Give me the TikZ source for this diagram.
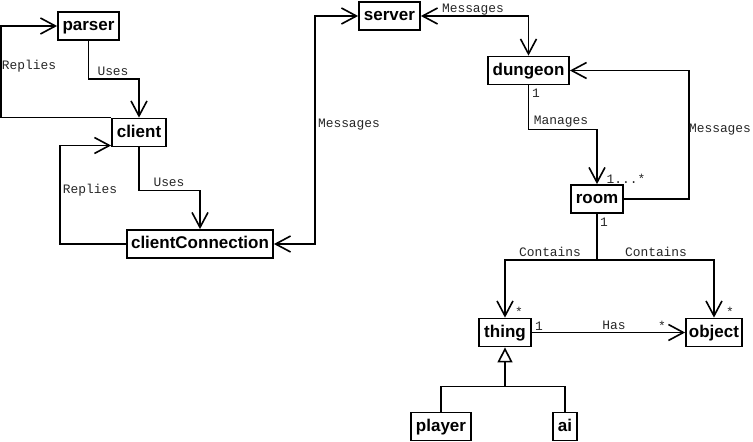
\documentclass[tikz,border=0pt]{standalone}
\usepackage{fontspec}
\setmainfont{Liberation Sans}
\newfontfamily\monofont{Liberation Mono}
\usetikzlibrary{arrows.meta}

\begin{document}
\begin{tikzpicture}[x=1pt,y=-1pt,line width=1.6pt,
  cls/.style={draw,line width=1.8pt,inner sep=0pt,minimum height=28,
    text height=12.5pt,text depth=3.5pt,font=\fontsize{17}{19}\selectfont\bfseries},
  lbl/.style={inner sep=0pt,text height=7.5pt,text depth=0pt,text=black!85,
    font=\monofont\fontsize{12.9}{14}\selectfont},
  assoc/.style={-{Straight Barb[length=15pt,width=16pt]}},
  biassoc/.style={{Straight Barb[length=15pt,width=16pt]}-{Straight Barb[length=15pt,width=16pt]}}]
  \useasboundingbox (0,0) rectangle (753,442);
  \node[cls,minimum width=61] (parser) at (88.5,26) {parser};
  \node[cls,minimum width=54] (client) at (139,132.5) {client};
  \node[cls,minimum width=146] (clientConnection) at (200,244) {clientConnection};
  \node[cls,minimum width=61] (server) at (389.5,16) {server};
  \node[cls,minimum width=81] (dungeon) at (528.5,70.5) {dungeon};
  \node[cls,minimum width=52] (room) at (597,199) {room};
  \node[cls,minimum width=52] (thing) at (505,332.5) {thing};
  \node[cls,minimum width=56] (object) at (714,332.5) {object};
  \node[cls,minimum width=60] (player) at (441,426.5) {player};
  \node[cls,minimum width=24] (ai) at (565,426.5) {ai};
  % lato client
  \draw[assoc] (parser.south) -- ++(0,38) -| (client.north);% parser usa client
  \draw[assoc] (client.north west) -- ++(-110,0) |- (parser.west);% risposte
  \draw[assoc] (client.south) -- ++(0,43) -| (clientConnection.north);
  \draw[assoc] (clientConnection.west) -- ++(-66,0) |- ([yshift=-13pt]client.west);
  % lato server
  \draw[biassoc] (server.west) -- ++(-43,0) |- (clientConnection.east);
  \draw[biassoc] (server.east) -| (dungeon.north);
  \draw[assoc] (dungeon.south) -- ++(0,44) -| (room.north);
  \draw[assoc] (room.east) -- ++(65,0) |- (dungeon.east);
  \draw (room.south) -- ++(0,46) coordinate (split);
  \draw[assoc] (split) -| (thing.north);
  \draw[assoc] (split) -| (object.north);
  \draw[assoc] (thing.east) -- (object.west);
  % ereditarieta
  \draw (player.north) -- ++(0,-25) coordinate (gen) -| (ai.north);
  \draw[-{Triangle[open,length=15pt,width=15pt,fill=white]}] (gen -| thing.south) -- (thing.south);
  % etichette
  \node[lbl] (replies1) at (29,66) {Replies};
  \node[lbl] (uses1) at (113,72) {Uses};
  \node[lbl] (replies2) at (90,190) {Replies};
  \node[lbl] (uses2) at (169,183) {Uses};
  \node[lbl] (msg1) at (349,124) {Messages};
  \node[lbl] (msg2) at (473,9) {Messages};
  \node[lbl] (msg3) at (720,129) {Messages};
  \node[lbl] (manages) at (561,121) {Manages};
  \node[lbl] (contains1) at (550,253) {Contains};
  \node[lbl] (contains2) at (656,253) {Contains};
  \node[lbl] (has) at (614,326) {Has};
  \node[lbl] (m1) at (536,94) {1};
  \node[lbl] (m2) at (626,180) {1...*};
  \node[lbl] (m3) at (604,223) {1};
  \node[lbl] (m4) at (519,313) {*};
  \node[lbl] (m5) at (730,313) {*};
  \node[lbl] (m6) at (539,327) {1};
  \node[lbl] (m7) at (662,327) {*};
\end{tikzpicture}
\end{document}
